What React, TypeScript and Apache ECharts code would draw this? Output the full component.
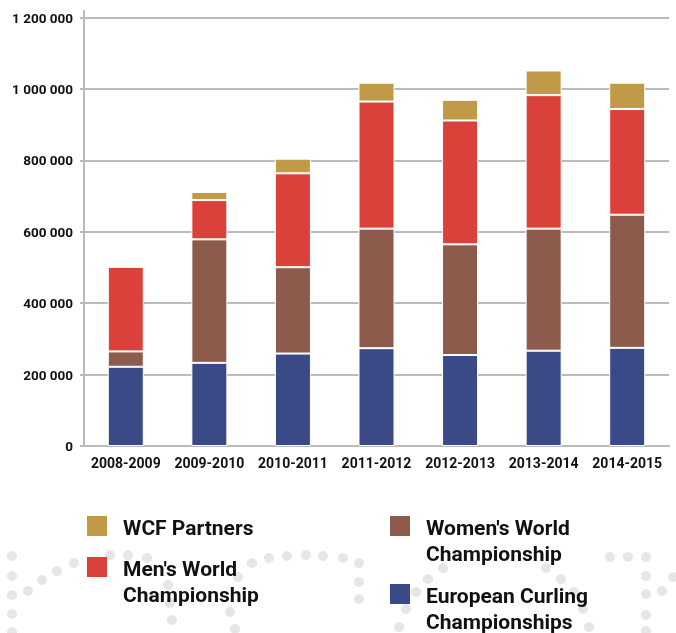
import React, { useEffect, useRef } from "react";
import * as echarts from "echarts";

const seasons = ["2008-2009", "2009-2010", "2010-2011", "2011-2012", "2012-2013", "2013-2014", "2014-2015"];
const european = [222000, 233000, 259000, 274000, 255000, 267000, 275000];
const womens = [43000, 346000, 242000, 335000, 310000, 342000, 373000];
const mens = [237000, 110000, 263000, 356000, 347000, 374000, 296000];
const wcfPartners = [0, 23000, 41000, 53000, 58000, 69000, 74000];

const seriesNames = ["European Curling Championships", "Women's World Championship", "Men's World Championship", "WCF Partners"];
const legendLines: Record<string, string[]> = {
  "WCF Partners": ["WCF Partners"],
  "Men's World Championship": ["Men's World", "Championship"],
  "Women's World Championship": ["Women's World", "Championship"],
  "European Curling Championships": ["European Curling", "Championships"],
};

const colors: Record<string, string> = {
  "European Curling Championships": "#3A4A86",
  "Women's World Championship": "#8D5B4C",
  "Men's World Championship": "#DA413B",
  "WCF Partners": "#C09A46",
};

// decorative background dots
const dots: [number, number][] = [
  [12, 556], [12, 576], [12, 595], [12, 614], [12, 632],
  [28, 591], [42, 580], [57, 571], [74, 563],
  [110, 555], [128, 555], [147, 558],
  [168, 585], [170, 603], [172, 620],
  [230, 612], [235, 629], [238, 577], [252, 563],
  [269, 558], [287, 556], [306, 555], [323, 556], [343, 558],
  [359, 563], [359, 582], [359, 599],
  [443, 568], [428, 579], [416, 592], [406, 609], [399, 627],
  [546, 568], [561, 579], [574, 592], [583, 609], [589, 627],
  [610, 557], [628, 557], [646, 557], [646, 576], [646, 594], [662, 591], [673, 577], [646, 615], [646, 631],
];

const FONT = "Roboto";

export default function App() {
  const ref = useRef<HTMLDivElement>(null);
  useEffect(() => {
    if (!ref.current) return;
    const chart = echarts.init(ref.current, undefined, { renderer: "svg" });
    const dataMap: Record<string, number[]> = {
      "European Curling Championships": european,
      "Women's World Championship": womens,
      "Men's World Championship": mens,
      "WCF Partners": wcfPartners,
    };

    const legendLayout: { name: string; x: number; y: number }[] = [
      { name: "WCF Partners", x: 87, y: 516 },
      { name: "Men's World Championship", x: 87, y: 557 },
      { name: "Women's World Championship", x: 390, y: 516 },
      { name: "European Curling Championships", x: 390, y: 584 },
    ];

    const graphic: any[] = [];
    dots.forEach(([cx, cy]) => {
      graphic.push({ type: "circle", shape: { cx, cy, r: 5 }, style: { fill: "#e6e6e6" }, z: 0, silent: true });
    });
    legendLayout.forEach((l) => {
      graphic.push({ type: "rect", shape: { x: l.x, y: l.y, width: 20, height: 20 }, style: { fill: colors[l.name] }, z: 10 });
      graphic.push({
        type: "text",
        x: l.x + 36,
        y: l.y - 1,
        z: 10,
        style: {
          text: legendLines[l.name].join("\n"),
          fill: "#111",
          font: `bold 21px ${FONT}`,
          lineHeight: 26,
          verticalAlign: "top",
        },
      });
    });
    graphic.push({ type: "line", shape: { x1: 84, y1: 10, x2: 84, y2: 18 }, style: { stroke: "#bbbbbb", lineWidth: 2 }, z: 5 });

    chart.setOption({
      animation: false,
      grid: { left: 84, right: 7, top: 17.7, bottom: 187 },
      xAxis: {
        type: "category",
        data: seasons,
        axisLine: { lineStyle: { color: "#bbbbbb", width: 2 } },
        axisTick: { show: false },
        axisLabel: { interval: 0, color: "#111", fontFamily: FONT, fontWeight: "bold", fontSize: 14, margin: 10 },
      },
      yAxis: {
        type: "value",
        min: 0,
        max: 1200000,
        interval: 200000,
        axisLine: { show: true, lineStyle: { color: "#bbbbbb", width: 2 } },
        axisTick: { show: true, length: 4, lineStyle: { color: "#bbbbbb", width: 2 } },
        splitLine: { lineStyle: { color: "#bbbbbb", width: 2 } },
        axisLabel: {
          color: "#111",
          fontFamily: FONT,
          fontWeight: "bold",
          fontSize: 13.5,
          margin: 11,
          formatter: (v: number) => String(v).replace(/\B(?=(\d{3})+(?!\d))/g, " "),
        },
      },
      series: seriesNames.map((name) => ({
        name,
        type: "bar",
        stack: "total",
        barWidth: 36,
        data: dataMap[name],
        itemStyle: { color: colors[name], borderColor: "#ffffff", borderWidth: 1 },
      })),
      graphic,
    });
    return () => chart.dispose();
  }, []);
  return <div ref={ref} style={{ position: "fixed", left: 0, top: 0, width: 676, height: 633 }} />;
}
